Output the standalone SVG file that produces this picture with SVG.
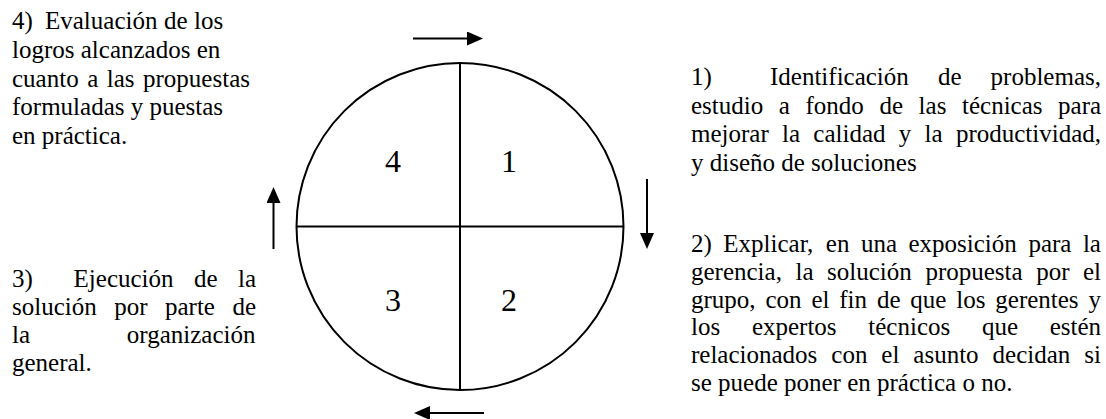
<svg xmlns="http://www.w3.org/2000/svg" width="1106" height="419" viewBox="0 0 1106 419">
<style>
  text { font-family: "Liberation Serif", "Times New Roman", serif; fill: #000; }
  .t { font-size: 25px; }
  .num { font-size: 32px; text-anchor: middle; }
  .shape { fill: none; stroke: #000; stroke-width: 2; }
  .arrow { fill: none; stroke: #000; stroke-width: 2; marker-end: url(#ah); }
</style>
<defs>
  <marker id="ah" markerUnits="userSpaceOnUse" markerWidth="16" markerHeight="14" refX="8" refY="7" orient="auto">
    <path d="M0,0 L16,7 L0,14 Z" fill="#000"/>
  </marker>
</defs>
<rect width="1106" height="419" fill="#fff"/>

<g id="cycle">
  <circle class="shape" cx="460" cy="226.5" r="163.5"/>
  <line class="shape" x1="460" y1="63" x2="460" y2="390"/>
  <line class="shape" x1="296.5" y1="226.5" x2="623.5" y2="226.5"/>
</g>
<g id="q4"><text class="num" x="393" y="172">4</text></g>
<g id="q1"><text class="num" x="509" y="172">1</text></g>
<g id="q3"><text class="num" x="393" y="310.5">3</text></g>
<g id="q2"><text class="num" x="509" y="310.5">2</text></g>

<g id="connectors">
  <line class="arrow" x1="413" y1="38.5" x2="475" y2="38.5"/>
  <line class="arrow" x1="647" y1="179" x2="647" y2="241"/>
  <line class="arrow" x1="484" y1="413" x2="422" y2="413"/>
  <line class="arrow" x1="273.5" y1="249" x2="273.5" y2="195"/>
</g>

<g id="text4">
  <text class="t" y="29"><tspan x="12">4)</tspan><tspan x="45">Evaluación</tspan><tspan x="164">de</tspan><tspan x="194">los</tspan></text>
  <text class="t" x="12" y="57.75">logros alcanzados en</text>
  <text class="t" y="86.5"><tspan x="12">cuanto</tspan><tspan x="87.15">a</tspan><tspan x="106.75">las</tspan><tspan x="143.05">propuestas</tspan></text>
  <text class="t" x="12" y="115.25">formuladas y puestas</text>
  <text class="t" x="12" y="144">en práctica.</text>
</g>

<g id="text1">
  <text class="t" y="85"><tspan x="691">1)</tspan><tspan x="770">Identificación</tspan><tspan x="937.9">de</tspan><tspan x="990.6">problemas,</tspan></text>
  <text class="t" y="113.5"><tspan x="691">estudio</tspan><tspan x="778.8">a</tspan><tspan x="805.5">fondo</tspan><tspan x="879.4">de</tspan><tspan x="918.6">las</tspan><tspan x="962">técnicas</tspan><tspan x="1058.1">para</tspan></text>
  <text class="t" y="142"><tspan x="691">mejorar</tspan><tspan x="782">la</tspan><tspan x="813.3">calidad</tspan><tspan x="898.8">y</tspan><tspan x="924.6">la</tspan><tspan x="955.9">productividad,</tspan></text>
  <text class="t" x="691" y="170.5">y diseño de soluciones</text>
</g>

<g id="text2">
  <text class="t" y="252"><tspan x="691">2)</tspan><tspan x="723.3">Explicar,</tspan><tspan x="825.8">en</tspan><tspan x="860.9">una</tspan><tspan x="908.5">exposición</tspan><tspan x="1028.4">para</tspan><tspan x="1082.9">la</tspan></text>
  <text class="t" y="279.75"><tspan x="691">gerencia,</tspan><tspan x="795.5">la</tspan><tspan x="827.1">solución</tspan><tspan x="925.4">propuesta</tspan><tspan x="1036.2">por</tspan><tspan x="1083">el</tspan></text>
  <text class="t" y="307.5"><tspan x="691">grupo,</tspan><tspan x="765.4">con</tspan><tspan x="811.4">el</tspan><tspan x="839.3">fin</tspan><tspan x="876.9">de</tspan><tspan x="910.3">que</tspan><tspan x="956.2">los</tspan><tspan x="995.3">gerentes</tspan><tspan x="1088.4">y</tspan></text>
  <text class="t" y="335.25"><tspan x="691">los</tspan><tspan x="751.9">expertos</tspan><tspan x="868.3">técnicos</tspan><tspan x="981.9">que</tspan><tspan x="1049.7">estén</tspan></text>
  <text class="t" y="363"><tspan x="691">relacionados</tspan><tspan x="831.3">con</tspan><tspan x="881.35">el</tspan><tspan x="913.35">asunto</tspan><tspan x="992.6">decidan</tspan><tspan x="1084.3">si</tspan></text>
  <text class="t" x="691" y="390.75">se puede poner en práctica o no.</text>
</g>

<g id="text3">
  <text class="t" y="287"><tspan x="12">3)</tspan><tspan x="73.6">Ejecución</tspan><tspan x="194">de</tspan><tspan x="238">la</tspan></text>
  <text class="t" y="315"><tspan x="12">solución</tspan><tspan x="114.2">por</tspan><tspan x="165">parte</tspan><tspan x="232.4">de</tspan></text>
  <text class="t" y="343"><tspan x="12">la</tspan><tspan x="126.85">organización</tspan></text>
  <text class="t" x="12" y="371">general.</text>
</g>
</svg>
